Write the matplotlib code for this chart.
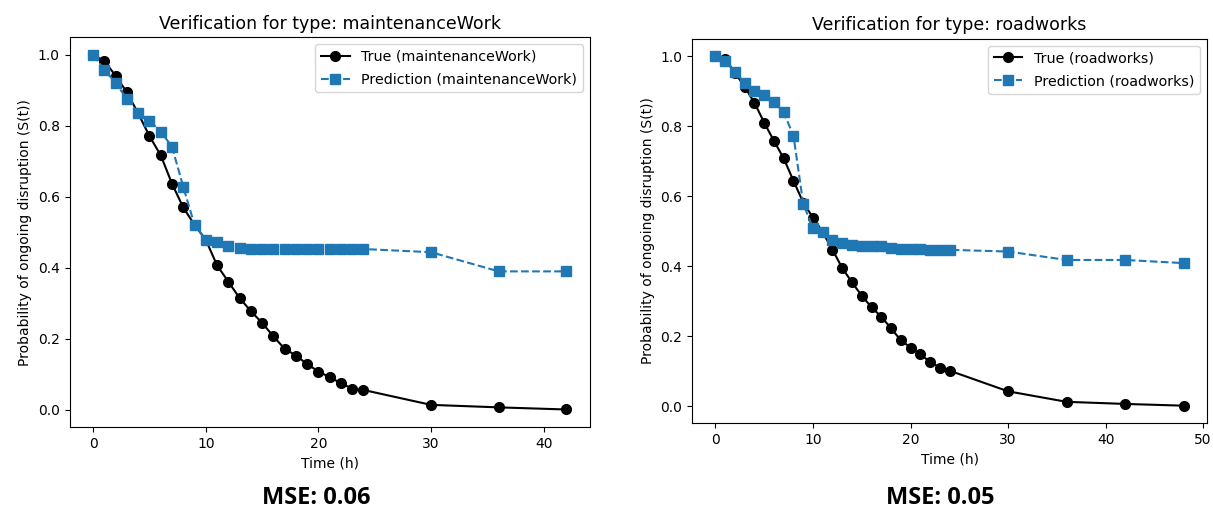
import numpy as np
import matplotlib.pyplot as plt

# ─── Daten: maintenanceWork ──────────────────────────────
zeit_wartung = [0, 1, 2, 3, 4, 5, 6, 7, 8, 9, 10, 11, 12, 13, 14, 15, 16, 17,
                18, 19, 20, 21, 22, 23, 24, 30, 36, 42]
wahr_wartung = [1.0, 0.982, 0.941, 0.894, 0.835, 0.771, 0.717, 0.637, 0.570,
                0.521, 0.479, 0.407, 0.361, 0.315, 0.278, 0.245, 0.207, 0.172,
                0.153, 0.129, 0.108, 0.092, 0.075, 0.060, 0.056, 0.014, 0.007,
                0.001]
vorhersage_wartung = [1.0, 0.958, 0.921, 0.875, 0.835, 0.814, 0.784, 0.741,
                      0.628, 0.521, 0.479, 0.472, 0.462, 0.455, 0.454, 0.453,
                      0.453, 0.453, 0.453, 0.453, 0.453, 0.453, 0.453, 0.453,
                      0.453, 0.444, 0.390, 0.390]

# ─── Daten: roadworks ────────────────────────────────────
zeit_bau = [0, 1, 2, 3, 4, 5, 6, 7, 8, 9, 10, 11, 12, 13, 14, 15, 16, 17,
            18, 19, 20, 21, 22, 23, 24, 30, 36, 42, 48]
wahr_bau = [1.0, 0.991, 0.953, 0.912, 0.867, 0.810, 0.758, 0.708, 0.644,
            0.582, 0.539, 0.497, 0.447, 0.395, 0.354, 0.316, 0.283, 0.256,
            0.223, 0.189, 0.168, 0.149, 0.127, 0.111, 0.102, 0.043, 0.013,
            0.007, 0.002]
vorhersage_bau = [1.0, 0.985, 0.956, 0.922, 0.901, 0.890, 0.870, 0.839,
                  0.773, 0.578, 0.509, 0.497, 0.476, 0.465, 0.461, 0.459,
                  0.459, 0.459, 0.452, 0.449, 0.449, 0.449, 0.447, 0.447,
                  0.447, 0.442, 0.418, 0.418, 0.409]

mse_werte = [0.06, 0.05]


def kurve_zeichnen(ax, zeit, wahr, vorhersage, typ):
    """Zeichnet wahre und vorhergesagte Überlebenskurve"""
    ax.plot(zeit, wahr, "o-", color="black", markersize=7,
            label=f"True ({typ})")
    ax.plot(zeit, vorhersage, "s--", color="#1f77b4", markersize=7,
            label=f"Prediction ({typ})")
    ax.set_title(f"Verification for type: {typ}", fontsize=12.5)
    ax.set_xlabel("Time (h)")
    ax.set_ylabel("Probability of ongoing disruption (S(t))")
    ax.legend(loc="upper right", fontsize=10.3, labelspacing=0.6)


fig = plt.figure(figsize=(12.13, 5.08), dpi=100)

ax1 = fig.add_axes([0.0573, 0.159, 0.429, 0.768])
kurve_zeichnen(ax1, zeit_wartung, wahr_wartung, vorhersage_wartung,
               "maintenanceWork")

ax2 = fig.add_axes([0.5705, 0.167, 0.4246, 0.757])
kurve_zeichnen(ax2, zeit_bau, wahr_bau, vorhersage_bau, "roadworks")

# ─── MSE Beschriftung ────────────────────────────────────
fig.text(0.261, 0.007, f"MSE: {mse_werte[0]:.2f}", ha="center",
         fontsize=17, fontweight="bold", family="Open Sans")
fig.text(0.775, 0.007, f"MSE: {mse_werte[1]:.2f}", ha="center",
         fontsize=17, fontweight="bold", family="Open Sans")

plt.savefig("out.png", dpi=100)
